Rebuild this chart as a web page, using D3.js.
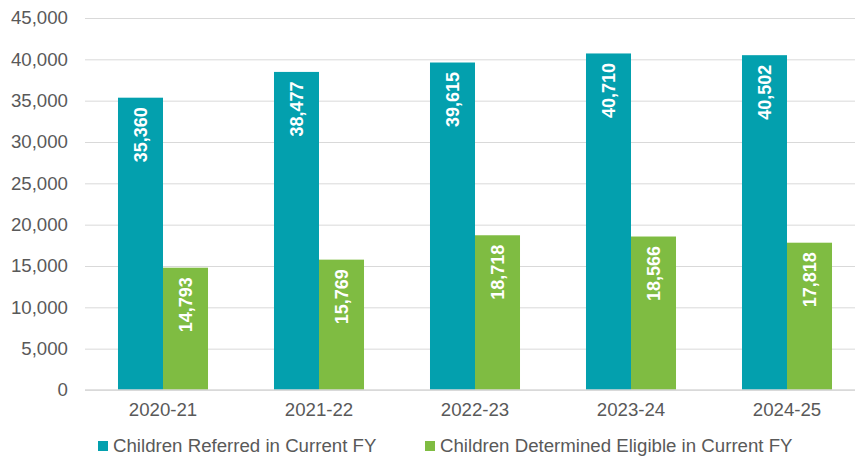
<!DOCTYPE html>
<html lang="en">
<head>
    <meta charset="UTF-8">
    <title>Children Referred vs Determined Eligible</title>
    <script src="https://d3js.org/d3.v7.min.js"></script>
    <style>
        body { margin: 0; background: #fff; }
        .chart text { font-family: "Liberation Sans", Arial, sans-serif; }
    </style>
</head>
<body>
    <svg id="chart" class="chart" width="855" height="456"></svg>

    <script>
        // Data
        const years = ["2020-21", "2021-22", "2022-23", "2023-24", "2024-25"];
        const referred = [35360, 38477, 39615, 40710, 40502];
        const eligible = [14793, 15769, 18718, 18566, 17818];
        const seriesNames = ["Children Referred in Current FY", "Children Determined Eligible in Current FY"];
        const yTicks = [0, 5000, 10000, 15000, 20000, 25000, 30000, 35000, 40000, 45000];

        const colors = ["#03a0ae", "#7fbc42"];
        const series = [referred, eligible];
        const fontSize = "18.67px";

        const svg = d3.select("#chart");
        const plot = { left: 85, right: 865, top: 18, bottom: 390 };

        // Scales
        const x0 = d3.scaleBand()
            .domain(years)
            .range([plot.left, plot.right])
            .paddingInner(0.423)
            .paddingOuter(0.2115);

        const x1 = d3.scaleBand()
            .domain([0, 1])
            .range([0, x0.bandwidth()]);

        const y = d3.scaleLinear()
            .domain([0, 45000])
            .range([plot.bottom, plot.top]);

        // Gridlines + y labels
        const yAxis = svg.append("g")
            .attr("transform", `translate(${plot.left},0)`)
            .call(d3.axisLeft(y)
                .tickValues(yTicks)
                .tickSize(-(plot.right - plot.left))
                .tickPadding(17)
                .tickFormat(d3.format(",")));

        yAxis.select(".domain").remove();
        yAxis.selectAll(".tick line")
            .attr("stroke", "#d9d9d9")
            .attr("stroke-width", 1);
        yAxis.selectAll(".tick text")
            .attr("fill", "#595959")
            .style("font-size", fontSize);

        // Bars
        const groups = svg.append("g")
            .selectAll("g")
            .data(years)
            .join("g")
            .attr("transform", d => `translate(${x0(d)},0)`);

        series.forEach((vals, s) => {
            groups.append("rect")
                .attr("x", x1(s))
                .attr("y", (d, i) => y(vals[i]))
                .attr("width", x1.bandwidth())
                .attr("height", (d, i) => y(0) - y(vals[i]))
                .attr("fill", colors[s]);

            // Value labels, rotated, inside top of bar
            groups.append("text")
                .attr("transform", (d, i) =>
                    `translate(${x1(s) + x1.bandwidth() / 2},${y(vals[i]) + 9.5}) rotate(-90)`)
                .attr("text-anchor", "end")
                .attr("dy", "0.35em")
                .attr("fill", "#fff")
                .style("font-size", "18px")
                .style("font-weight", "bold")
                .text((d, i) => d3.format(",")(vals[i]));
        });

        // Zero baseline
        svg.append("line")
            .attr("x1", plot.left).attr("x2", plot.right)
            .attr("y1", y(0)).attr("y2", y(0))
            .attr("stroke", "#d9d9d9")
            .attr("stroke-width", 1.5);

        // x labels
        const xAxis = svg.append("g")
            .attr("transform", `translate(0,${plot.bottom})`)
            .call(d3.axisBottom(x0).tickSize(0).tickPadding(13));
        xAxis.select(".domain").remove();
        xAxis.selectAll(".tick text")
            .attr("fill", "#595959")
            .style("font-size", fontSize);

        // Legend
        const legendX = [98, 425];
        const legend = svg.append("g")
            .selectAll("g")
            .data(seriesNames)
            .join("g")
            .attr("transform", (d, i) => `translate(${legendX[i]},441)`);

        legend.append("rect")
            .attr("width", 10)
            .attr("height", 10)
            .attr("fill", (d, i) => colors[i]);

        legend.append("text")
            .attr("x", 15)
            .attr("y", 11)
            .attr("fill", "#595959")
            .style("font-size", fontSize)
            .text(d => d);
    </script>
</body>
</html>
